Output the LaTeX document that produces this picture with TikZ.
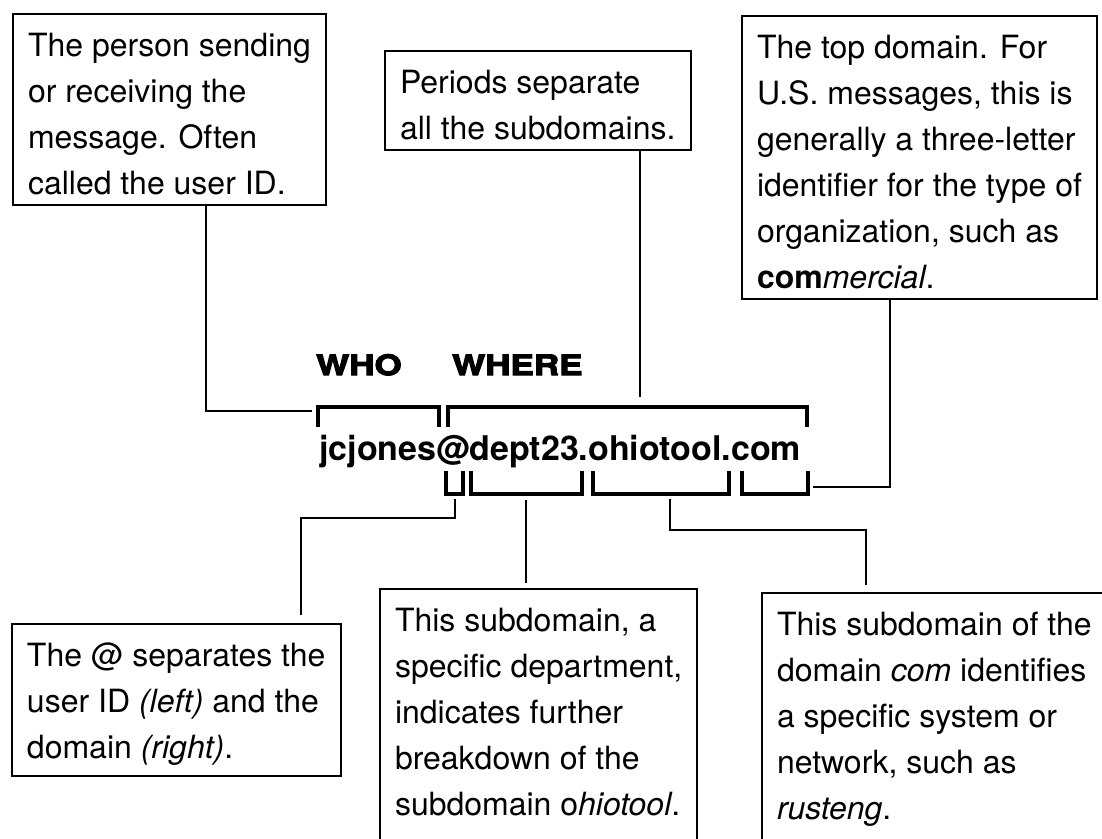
\documentclass[tikz,border=0pt]{standalone}
\usepackage{fontspec}
\setmainfont{TeX Gyre Heros}
\newfontfamily\heavyfont{TeX Gyre Heros}[FakeStretch=1.25, BoldFeatures={FakeBold=4}]
\usetikzlibrary{positioning}
\newcommand{\topstrut}{\rule{0pt}{31pt}}
\newcommand{\lowstrut}{\rule[-30pt]{0pt}{1pt}}
\tikzset{
	note/.style={draw, line width=2pt, anchor=north west, align=left,
		inner xsep=15pt, inner ysep=11pt, font=\fontsize{32}{46}\selectfont},
	tag/.style={anchor=base west, inner sep=0pt},
	link/.style={line width=2pt},
	brace/.style={line width=3.5pt, line join=miter}
}

\begin{document}
\begin{tikzpicture}[x=1pt, y=-1pt]
	\useasboundingbox (0,0) rectangle (1102,838);
	% explanation boxes
	\node[note] (person) at (12,13) {\topstrut The person sending\\ or receiving the\\ message. Often\\ called the user ID.};
	\node[note] (periods) at (384,50) {\topstrut Periods separate\\ all the subdomains.};
	\node[note] (topdom) at (741,15) {\topstrut The top domain. For\\ U.S. messages, this is\\ generally a three-letter\\ identifier for the type of\\ organization, such as\\ \textbf{com}\textit{mercial}.};
	\node[note] (atbox) at (11,623) {\topstrut The @ separates the\\ user ID \textit{(left)} and the\\ domain \textit{(right)}.};
	\node[note] (deptbox) at (379,588) {\topstrut This subdomain, a\\ specific department,\\ indicates further\\ breakdown of the\\ subdomain o\textit{hiotool}.\lowstrut};
	\node[note] (netbox) at (761,592) {\topstrut This subdomain of the\\ domain \textit{com} identifies\\ a specific system or\\ network, such as\\ \textit{rusteng}.\lowstrut};
	% address and headings
	\node[tag, font=\heavyfont\bfseries\fontsize{28}{28}\selectfont] (who) at (316,375) {WHO};
	\node[tag, font=\heavyfont\bfseries\fontsize{28}{28}\selectfont] (where) at (452,375) {WHERE};
	\node[tag, font=\bfseries\fontsize{34}{34}\selectfont] (email) at (319,460) {jcjones@dept23.ohiotool.com};
	% brackets
	\foreach \xa/\xb in {318/439, 448/807} {
		\draw[brace] (\xa,427) -- (\xa,407) -- (\xb,407) -- (\xb,427);
	}
	\foreach \xa/\xb in {446/463, 471/582, 593/729, 742/808} {
		\draw[brace] (\xa,471) -- (\xa,494) -- (\xb,494) -- (\xb,471);
	}
	\coordinate (who-in) at (312,411);
	\coordinate (where-in) at (640,397);
	\coordinate (at-out) at (455,499);
	\coordinate (dept-out) at (526,500);
	\coordinate (ohio-out) at (670,499);
	\coordinate (com-out) at (813,487);
	% connectors
	\draw[link] ([xshift=37pt]person.south) |- (who-in);
	\draw[link] (periods.south -| where-in) -- (where-in);
	\draw[link] (com-out) -| ([xshift=-30pt]topdom.south);
	\draw[link] (at-out) -- ++(0,19) -| ([xshift=125pt, yshift=8pt]atbox.north);
	\draw[link] (dept-out) -- ([yshift=5pt]dept-out |- deptbox.north);
	\draw[link] (ohio-out) -- ++(0,31) -| ([xshift=-68pt, yshift=7pt]netbox.north);
\end{tikzpicture}
\end{document}
